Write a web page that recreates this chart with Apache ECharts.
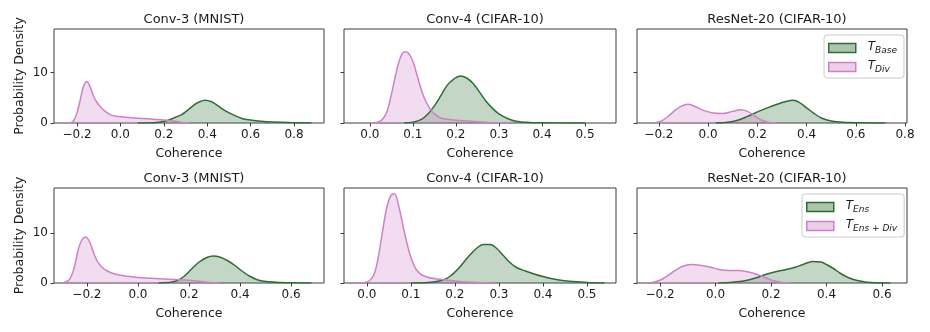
<!DOCTYPE html>
<html>
<head>
<meta charset="utf-8">
<script src="https://cdn.jsdelivr.net/npm/echarts@6/dist/echarts.min.js"></script>
<style>
  html, body { margin: 0; padding: 0; background: #fff; }
  #chart { width: 930px; height: 332px; }
</style>
</head>
<body>
<div id="chart"></div>
<script>
// density curves (coherence -> probability density)
// top row: T_Base / T_Div
const conv3MnistBaseX = [0.08, 0.14, 0.20, 0.24, 0.28, 0.30, 0.32, 0.34, 0.36, 0.39, 0.42, 0.45, 0.48, 0.52, 0.56, 0.60, 0.65, 0.70, 0.78, 0.88]
const conv3MnistBaseY = [0, 0.05, 0.3, 0.9, 1.6, 2.2, 2.9, 3.6, 4.1, 4.5, 4.2, 3.4, 2.5, 1.6, 0.9, 0.6, 0.35, 0.2, 0.08, 0]
const conv3MnistDivX = [-0.25, -0.23, -0.215, -0.2, -0.185, -0.17, -0.155, -0.14, -0.125, -0.11, -0.09, -0.07, -0.045, -0.02, 0.0, 0.05, 0.10, 0.15, 0.20, 0.25, 0.29, 0.32]
const conv3MnistDivY = [0, 0.05, 0.5, 2.0, 4.6, 7.2, 8.2, 7.2, 5.4, 4.2, 3.1, 2.3, 1.6, 1.35, 1.25, 1.05, 0.9, 0.75, 0.6, 0.35, 0.1, 0]

const conv4CifarBaseX = [0.08, 0.10, 0.12, 0.135, 0.15, 0.165, 0.18, 0.195, 0.21, 0.225, 0.24, 0.255, 0.27, 0.285, 0.30, 0.32, 0.34, 0.37, 0.42, 0.50]
const conv4CifarBaseY = [0, 0.15, 0.7, 1.8, 3.4, 5.4, 7.5, 8.7, 9.3, 8.9, 7.8, 6.1, 4.3, 2.9, 1.8, 0.9, 0.35, 0.12, 0.03, 0]
const conv4CifarDivX = [0.0, 0.02, 0.03, 0.04, 0.05, 0.06, 0.07, 0.08, 0.09, 0.10, 0.11, 0.12, 0.13, 0.14, 0.15, 0.165, 0.18, 0.20, 0.23, 0.26, 0.30, 0.33]
const conv4CifarDivY = [0, 0.2, 0.8, 2.3, 5.6, 9.5, 12.7, 14.1, 13.8, 12.2, 9.4, 6.5, 4.3, 2.8, 1.8, 1.0, 0.75, 0.55, 0.4, 0.2, 0.05, 0]

const resnetCifarBaseX = [0.03, 0.08, 0.12, 0.16, 0.20, 0.24, 0.28, 0.32, 0.345, 0.37, 0.40, 0.43, 0.46, 0.50, 0.55, 0.62, 0.72]
const resnetCifarBaseY = [0, 0.15, 0.55, 1.3, 2.2, 3.0, 3.7, 4.3, 4.5, 4.1, 3.0, 1.9, 1.0, 0.4, 0.15, 0.05, 0]
const resnetCifarDivX = [-0.22, -0.19, -0.16, -0.13, -0.10, -0.08, -0.05, -0.02, 0.02, 0.06, 0.10, 0.13, 0.16, 0.19, 0.22, 0.25, 0.28]
const resnetCifarDivY = [0, 0.4, 1.4, 2.7, 3.5, 3.7, 3.2, 2.5, 2.0, 1.9, 2.3, 2.6, 2.3, 1.4, 0.5, 0.1, 0]

// bottom row: T_Ens / T_Ens+Div
const conv3MnistEnsX = [0.08, 0.12, 0.15, 0.18, 0.21, 0.24, 0.27, 0.295, 0.32, 0.35, 0.38, 0.41, 0.44, 0.47, 0.51, 0.56, 0.62, 0.68]
const conv3MnistEnsY = [0, 0.1, 0.4, 1.3, 2.8, 4.2, 5.1, 5.4, 5.2, 4.5, 3.5, 2.3, 1.3, 0.6, 0.25, 0.1, 0.03, 0]
const conv3MnistEnsDivX = [-0.30, -0.27, -0.25, -0.235, -0.22, -0.205, -0.19, -0.175, -0.16, -0.14, -0.12, -0.09, -0.05, 0.0, 0.05, 0.10, 0.15, 0.20, 0.24, 0.28, 0.32]
const conv3MnistEnsDivY = [0, 0.6, 3.0, 6.5, 8.6, 9.2, 8.3, 6.2, 4.4, 3.1, 2.4, 1.8, 1.4, 1.1, 0.95, 0.8, 0.7, 0.55, 0.35, 0.1, 0]

const conv4CifarEnsX = [0.10, 0.14, 0.17, 0.19, 0.21, 0.23, 0.25, 0.265, 0.28, 0.295, 0.31, 0.325, 0.34, 0.36, 0.38, 0.40, 0.43, 0.46, 0.50, 0.54]
const conv4CifarEnsY = [0, 0.1, 0.5, 1.4, 3.1, 5.2, 7.0, 7.7, 7.7, 6.9, 5.5, 4.1, 3.1, 2.4, 1.8, 1.3, 0.7, 0.35, 0.12, 0]
const conv4CifarEnsDivX = [-0.02, 0.0, 0.015, 0.025, 0.035, 0.045, 0.055, 0.063, 0.072, 0.082, 0.092, 0.102, 0.112, 0.125, 0.14, 0.16, 0.18, 0.21, 0.25, 0.29]
const conv4CifarEnsDivY = [0, 0.2, 1.5, 4.8, 10.0, 15.0, 17.6, 17.8, 15.5, 11.5, 7.6, 4.6, 2.7, 1.6, 1.1, 0.8, 0.6, 0.3, 0.1, 0]

const resnetCifarEnsX = [0.01, 0.06, 0.11, 0.15, 0.18, 0.22, 0.255, 0.29, 0.315, 0.35, 0.38, 0.40, 0.425, 0.448, 0.47, 0.497, 0.53, 0.56, 0.63]
const resnetCifarEnsY = [0, 0.15, 0.5, 1.1, 1.7, 2.3, 2.7, 3.2, 3.7, 4.3, 4.2, 3.7, 2.9, 2.0, 1.3, 0.7, 0.3, 0.1, 0]
const resnetCifarEnsDivX = [-0.24, -0.22, -0.194, -0.158, -0.121, -0.085, -0.05, -0.02, 0.012, 0.05, 0.085, 0.11, 0.133, 0.17, 0.206, 0.242, 0.27]
const resnetCifarEnsDivY = [0, 0.2, 0.7, 2.0, 3.3, 3.7, 3.5, 3.2, 2.7, 2.5, 2.5, 2.3, 2.0, 1.3, 0.5, 0.1, 0]

// tick labels
const ticksWide = [-0.2, 0, 0.2, 0.4, 0.6, 0.8]
const ticksNarrow = [0, 0.1, 0.2, 0.3, 0.4, 0.5]
const ticksMid = [-0.2, 0, 0.2, 0.4, 0.6]
const yTicks = [0, 10]

const FONT = 'DejaVu Sans'
const TEXT = '#1a1a1a'
const SPINE = '#3c3c3c'
const lineColors = { green: '#2c6e31', pink: '#d080c8' }
const fillColors = { green: 'rgba(44,110,49,0.4)', pink: 'rgba(208,128,200,0.38)' }
const subscripts = { 'T_Base': 'Base', 'T_Div': 'Div', 'T_Ens': 'Ens', 'T_Ens+Div': 'Ens + Div' }

const panels = [
  { title: 'Conv-3 (MNIST)', box: [54, 29, 270, 94], x: [-0.306, 0.938], ticks: ticksWide, yMax: 18.6, yLabel: true,
    curves: [['T_Base', 'green', conv3MnistBaseX, conv3MnistBaseY], ['T_Div', 'pink', conv3MnistDivX, conv3MnistDivY]] },
  { title: 'Conv-4 (CIFAR-10)', box: [344, 29, 272, 94], x: [-0.06, 0.572], ticks: ticksNarrow, yMax: 18.6,
    curves: [['T_Base', 'green', conv4CifarBaseX, conv4CifarBaseY], ['T_Div', 'pink', conv4CifarDivX, conv4CifarDivY]] },
  { title: 'ResNet-20 (CIFAR-10)', box: [637, 29, 270, 94], x: [-0.289, 0.808], ticks: ticksWide, yMax: 18.6,
    curves: [['T_Base', 'green', resnetCifarBaseX, resnetCifarBaseY], ['T_Div', 'pink', resnetCifarDivX, resnetCifarDivY]] },
  { title: 'Conv-3 (MNIST)', box: [54, 188, 270, 95], x: [-0.329, 0.729], ticks: ticksMid, yMax: 19.0, yLabel: true,
    curves: [['T_Ens', 'green', conv3MnistEnsX, conv3MnistEnsY], ['T_Ens+Div', 'pink', conv3MnistEnsDivX, conv3MnistEnsDivY]] },
  { title: 'Conv-4 (CIFAR-10)', box: [344, 188, 272, 95], x: [-0.052, 0.566], ticks: ticksNarrow, yMax: 19.0,
    curves: [['T_Ens', 'green', conv4CifarEnsX, conv4CifarEnsY], ['T_Ens+Div', 'pink', conv4CifarEnsDivX, conv4CifarEnsDivY]] },
  { title: 'ResNet-20 (CIFAR-10)', box: [637, 188, 270, 95], x: [-0.283, 0.69], ticks: ticksMid, yMax: 19.0,
    curves: [['T_Ens', 'green', resnetCifarEnsX, resnetCifarEnsY], ['T_Ens+Div', 'pink', resnetCifarEnsDivX, resnetCifarEnsDivY]] }
]

function fmtTick(v) {
  const s = Math.abs(v).toFixed(1)
  return v < -1e-9 ? '\u2212' + s : s
}

const chart = echarts.init(document.getElementById('chart'), null, { renderer: 'canvas' })

const grid = [], xAxis = [], yAxis = [], title = [], series = []
panels.forEach((p, i) => {
  const [left, top, width, height] = p.box
  grid.push({ left, top, width, height, show: true, borderColor: SPINE, borderWidth: 1, backgroundColor: 'transparent' })
  title.push({
    text: p.title, left: left + width / 2, top: top - 21, textAlign: 'center',
    textStyle: { fontFamily: FONT, fontSize: 13, fontWeight: 'normal', color: TEXT }
  })
  xAxis.push({
    type: 'value', gridIndex: i, min: p.x[0], max: p.x[1],
    name: 'Coherence', nameLocation: 'middle', nameGap: 24,
    nameTextStyle: { fontFamily: FONT, fontSize: 12.5, color: TEXT },
    axisLine: { show: false, onZero: false },
    axisTick: { show: true, customValues: p.ticks, length: 3.5, lineStyle: { color: SPINE } },
    axisLabel: { customValues: p.ticks, formatter: fmtTick, margin: 6, fontFamily: FONT, fontSize: 12, color: TEXT },
    splitLine: { show: false }
  })
  yAxis.push({
    type: 'value', gridIndex: i, min: 0, max: p.yMax,
    name: p.yLabel ? 'Probability Density' : '', nameLocation: 'middle', nameGap: 28, nameRotate: 90,
    nameTextStyle: { fontFamily: FONT, fontSize: 12.5, color: TEXT },
    axisLine: { show: false, onZero: false },
    axisTick: { show: true, customValues: yTicks, length: 3.5, lineStyle: { color: SPINE } },
    axisLabel: { show: !!p.yLabel, customValues: yTicks, margin: 6, fontFamily: FONT, fontSize: 12, color: TEXT },
    splitLine: { show: false }
  })
  p.curves.forEach(([name, tone, xs, ys]) => {
    series.push({
      name, type: 'line', xAxisIndex: i, yAxisIndex: i,
      data: xs.map((x, k) => [x, ys[k]]),
      smooth: 0.35, showSymbol: false, silent: true,
      lineStyle: { color: lineColors[tone], width: 1.5 },
      itemStyle: { color: lineColors[tone] },
      areaStyle: { color: fillColors[tone], origin: 'start' }
    })
  })
})

function legendFor(names, tones, left, top) {
  return {
    orient: 'vertical', left, top, selectedMode: false,
    padding: [4, 5, 4, 4], itemWidth: 27, itemHeight: 9, itemGap: 3,
    backgroundColor: 'rgba(255,255,255,0.8)', borderColor: '#cccccc', borderWidth: 1, borderRadius: 3,
    data: names.map((n, k) => ({
      name: n, icon: 'rect',
      itemStyle: { color: fillColors[tones[k]], borderColor: lineColors[tones[k]], borderWidth: 1.5 }
    })),
    formatter: n => '{t|T}{s|' + subscripts[n] + '}',
    textStyle: {
      color: TEXT,
      rich: {
        t: { fontFamily: FONT, fontStyle: 'italic', fontSize: 12, lineHeight: 14, verticalAlign: 'top', padding: [0, 0, 0, 7], color: TEXT },
        s: { fontFamily: FONT, fontStyle: 'italic', fontSize: 9, lineHeight: 9, verticalAlign: 'bottom', padding: [7, 2, 0, 0], color: TEXT }
      }
    }
  }
}

chart.setOption({
  animation: false,
  backgroundColor: '#ffffff',
  title, grid, xAxis, yAxis, series,
  legend: [
    legendFor(['T_Base', 'T_Div'], ['green', 'pink'], 824, 35),
    legendFor(['T_Ens', 'T_Ens+Div'], ['green', 'pink'], 802, 194)
  ]
})
</script>
</body>
</html>
